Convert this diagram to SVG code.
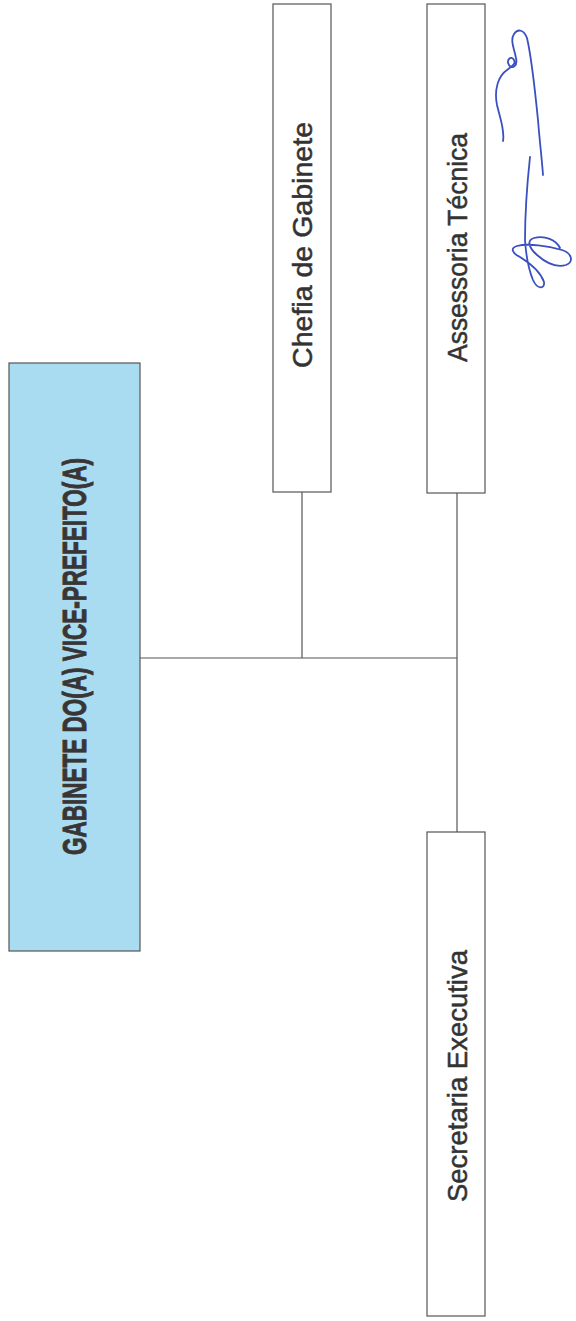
<svg xmlns="http://www.w3.org/2000/svg" width="576" height="1321" viewBox="0 0 576 1321">
<style>
.box{fill:#ffffff;stroke:#555555;stroke-width:1.2}
.main{fill:#a9dcf0;stroke:#555555;stroke-width:1.2}
.lbl{font-family:"Liberation Sans",Arial,sans-serif;font-size:28px;fill:#333333;stroke:#333333;stroke-width:0.5;text-anchor:middle}
.ttl{font-family:"Liberation Sans",Arial,sans-serif;font-size:34px;font-weight:bold;fill:#3a3535;stroke:#3a3535;stroke-width:1;text-anchor:middle}
.conn{stroke:#555555;stroke-width:1.2;fill:none}
.sig{stroke:#3a4fc0;stroke-width:1.8;fill:none;stroke-linecap:round;stroke-linejoin:round}
</style>
<rect width="576" height="1321" fill="#ffffff"/>
<g id="connectors">
<line class="conn" x1="140" y1="658" x2="457" y2="658"/>
<line class="conn" x1="302" y1="492" x2="302" y2="658"/>
<line class="conn" x1="457" y1="493" x2="457" y2="832"/>
</g>
<g id="gabinete">
<rect class="main" x="9" y="363" width="131" height="588"/>
<text class="ttl" transform="translate(86,656.5) rotate(-90)" textLength="397" lengthAdjust="spacingAndGlyphs">GABINETE DO(A) VICE-PREFEITO(A)</text>
</g>
<g id="chefia">
<rect class="box" x="273" y="4" width="58" height="488"/>
<text class="lbl" transform="translate(312,245) rotate(-90)" textLength="246" lengthAdjust="spacingAndGlyphs">Chefia de Gabinete</text>
</g>
<g id="assessoria">
<rect class="box" x="427" y="4" width="58" height="489"/>
<text class="lbl" transform="translate(467,247.5) rotate(-90)" textLength="229" lengthAdjust="spacingAndGlyphs">Assessoria Técnica</text>
</g>
<g id="secretaria">
<rect class="box" x="427" y="832" width="58" height="484"/>
<text class="lbl" transform="translate(467,1076) rotate(-90)" textLength="252" lengthAdjust="spacingAndGlyphs">Secretaria Executiva</text>
</g>
<g id="signature">
<path class="sig" d="M503,141 C505,130 500,118 497,105 C494,90 498,76 507,70 C512,66 516,64 514,60 C511,55 506,60 509,65 C512,70 518,66 516,58 C514,48 510,40 514,34 C518,28 524,30 527,38 C531,55 535,90 538,120 C540,145 542,160 543,175"/>
<path class="sig" d="M530,157 C527,185 525,215 525,240 C526,255 528,268 533,280 C537,289 545,290 544,282 C540,270 528,262 520,257 C512,253 510,248 517,246 C528,243 548,246 562,250 C572,253 574,262 566,265 C556,268 545,262 537,255 C528,247 527,240 534,238 C545,235 556,240 560,248"/>
</g>
</svg>
